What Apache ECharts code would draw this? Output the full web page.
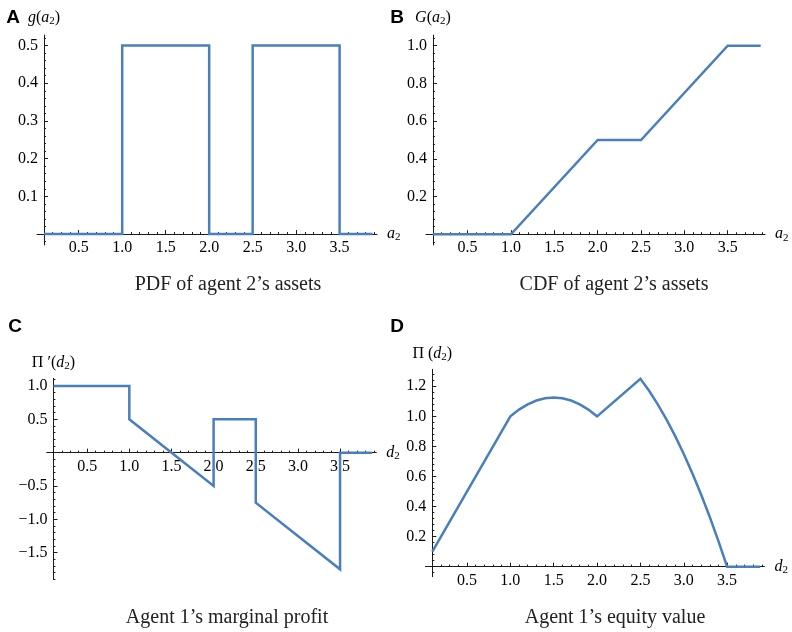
<!DOCTYPE html>
<html>
<head>
<meta charset="utf-8">
<script src="https://cdn.jsdelivr.net/npm/echarts@6/dist/echarts.min.js"></script>
<style>
  html, body { margin: 0; padding: 0; background: #fff; }
  #chart { width: 792px; height: 632px; }
</style>
</head>
<body>
<div id="chart"></div>
<script>
// panel A: PDF g(a2)
const pdfX = [0.1, 1, 1, 2, 2, 2.5, 2.5, 3.5, 3.5, 3.88];
const pdfY = [0, 0, 0.5, 0.5, 0, 0, 0.5, 0.5, 0, 0];
// panel B: CDF G(a2)
const cdfX = [0.1, 1, 2, 2.5, 3.5, 3.88];
const cdfY = [0, 0, 0.5, 0.5, 1, 1];
// panel C: marginal profit Pi'(d2)
const margX = [0.1, 1, 1, 2, 2, 2.5, 2.5, 3.5, 3.5, 3.88];
const margY = [1, 1, 0.5, -0.5, 0.5, 0.5, -0.75, -1.75, 0, 0];
// panel D: equity value Pi(d2)
const eqX = [0.1, 1, 1.1, 1.2, 1.3, 1.4, 1.5, 1.6, 1.7, 1.8, 1.9, 2, 2.5,
  2.6, 2.7, 2.8, 2.9, 3.0, 3.1, 3.2, 3.3, 3.4, 3.5, 3.88];
const eqY = [0.1, 1, 1.045, 1.08, 1.105, 1.12, 1.125, 1.12, 1.105, 1.08, 1.045, 1, 1.25,
  1.17, 1.08, 0.98, 0.87, 0.75, 0.62, 0.48, 0.33, 0.17, 0, 0];

// tick labels
const xTicks = [0.5, 1.0, 1.5, 2.0, 2.5, 3.0, 3.5];
const yTicksA = [0.1, 0.2, 0.3, 0.4, 0.5];
const yTicksB = [0.2, 0.4, 0.6, 0.8, 1.0];
const yTicksC = [1.0, 0.5, -0.5, -1.0, -1.5];
const yTicksD = [0.2, 0.4, 0.6, 0.8, 1.0, 1.2];

const titles = ['PDF of agent 2\u2019s assets', 'CDF of agent 2\u2019s assets',
  'Agent 1\u2019s marginal profit', 'Agent 1\u2019s equity value'];

const lineColor = '#4a7fbd';
const axisColor = '#1a1a1a';
const serif = '"Liberation Serif", "DejaVu Serif", serif';

// minor tick positions between lo and hi in given step, skipping majors
function minors(lo, hi, step, majors) {
  const out = [];
  const n = Math.round((hi - lo) / step);
  for (let i = 0; i <= n; i++) {
    const v = Math.round((lo + i * step) * 1000) / 1000;
    if (!majors.some(m => Math.abs(m - v) < 1e-6)) out.push(v);
  }
  return out;
}

const rich = {
  i: { fontFamily: serif, fontStyle: 'italic', fontSize: 16, color: '#000', lineHeight: 18 },
  n: { fontFamily: serif, fontSize: 16, color: '#000', lineHeight: 18 },
  s: { fontFamily: serif, fontSize: 11, color: '#000', lineHeight: 10, verticalAlign: 'bottom' }
};

const panels = [
  { grid: { left: 37, top: 35, width: 340, height: 210 }, ymin: -0.029, ymax: 0.528,
    yTicks: yTicksA, yMinor: minors(-0.02, 0.52, 0.02, yTicksA),
    yName: '{i|g}{n|(}{i|a}{s|2}{n|)}', xName: '{i|a}{s|2}', nameGapY: 8,
    xs: pdfX, ys: pdfY },
  { grid: { left: 426, top: 35, width: 339, height: 210 }, ymin: -0.057, ymax: 1.057,
    yTicks: yTicksB, yMinor: minors(-0.04, 1.04, 0.04, yTicksB),
    yName: '{i|G}{n|(}{i|a}{s|2}{n|)}', xName: '{i|a}{s|2}', nameGapY: 8,
    xs: cdfX, ys: cdfY },
  { grid: { left: 46.7, top: 378.3, width: 329.6, height: 201 }, ymin: -1.9, ymax: 1.115,
    yTicks: yTicksC, yMinor: minors(-1.9, 1.1, 0.1, yTicksC.concat([0])),
    yName: '{n|\u03A0 \u2032(}{i|d}{s|2}{n|)}', xName: '{i|d}{s|2}', nameGapY: 7,
    xs: margX, ys: margY },
  { grid: { left: 425.4, top: 369.3, width: 339, height: 207.4 }, ymin: -0.067, ymax: 1.313,
    yTicks: yTicksD, yMinor: minors(-0.04, 1.28, 0.04, yTicksD),
    yName: '{n|\u03A0 (}{i|d}{s|2}{n|)}', xName: '{i|d}{s|2}', nameGapY: 7,
    xs: eqX, ys: eqY }
];

const xMin = 0.02, xMax = 3.93;
const xMinor = minors(0.2, 3.9, 0.1, xTicks);

const grid = [], xAxis = [], yAxis = [], series = [];
panels.forEach((p, k) => {
  grid.push(Object.assign({ outerBoundsMode: 'none' }, p.grid));
  // axes cross at (0.1, 0): shift them in pixels from the grid edges
  const yOff = -(0.1 - xMin) * p.grid.width / (xMax - xMin);
  const xOff = -(0 - p.ymin) * p.grid.height / (p.ymax - p.ymin);
  const fmt = v => v.toFixed(1).replace('-', '\u2212');
  // major x axis
  xAxis.push({
    type: 'value', gridIndex: k, min: xMin, max: xMax, position: 'bottom', offset: xOff,
    axisLine: { onZero: false, lineStyle: { color: axisColor, width: 1 } },
    axisTick: { inside: true, length: 4, customValues: xTicks, lineStyle: { color: axisColor } },
    axisLabel: { customValues: xTicks, formatter: fmt, margin: 6, fontFamily: serif, fontSize: 16, color: '#000' },
    splitLine: { show: false },
    name: p.xName, nameLocation: 'end', nameGap: 10,
    nameTextStyle: { rich: rich, verticalAlign: 'middle' }
  });
  // minor x ticks
  xAxis.push({
    type: 'value', gridIndex: k, min: xMin, max: xMax, position: 'bottom', offset: xOff,
    axisLine: { show: false, onZero: false },
    axisTick: { inside: true, length: 2, customValues: xMinor, lineStyle: { color: axisColor } },
    axisLabel: { show: false }, splitLine: { show: false }
  });
  yAxis.push({
    type: 'value', gridIndex: k, min: p.ymin, max: p.ymax, position: 'left', offset: yOff,
    axisLine: { show: true, onZero: false, lineStyle: { color: axisColor, width: 1 } },
    axisTick: { show: true, inside: true, length: 4, customValues: p.yTicks, lineStyle: { color: axisColor } },
    axisLabel: { customValues: p.yTicks, formatter: fmt, margin: 6, fontFamily: serif, fontSize: 16, color: '#000' },
    splitLine: { show: false },
    name: p.yName, nameLocation: 'end', nameGap: p.nameGapY,
    nameTextStyle: { rich: rich, align: 'center' }
  });
  yAxis.push({
    type: 'value', gridIndex: k, min: p.ymin, max: p.ymax, position: 'left', offset: yOff,
    axisLine: { show: false, onZero: false },
    axisTick: { show: true, inside: true, length: 2, customValues: p.yMinor, lineStyle: { color: axisColor } },
    axisLabel: { show: false }, splitLine: { show: false }
  });
  series.push({
    type: 'line', xAxisIndex: 2 * k, yAxisIndex: 2 * k,
    data: p.xs.map((x, i) => [x, p.ys[i]]),
    showSymbol: false, symbol: 'none', clip: false,
    lineStyle: { color: lineColor, width: 2.5, join: 'miter' }
  });
});

const letters = [['A', 13, 18], ['B', 397, 18], ['C', 15, 327], ['D', 397, 327]];
const titlePos = [[228, 285], [614, 285], [227, 618], [615, 618]];
const graphic = [];
letters.forEach(l => graphic.push({
  type: 'text', x: l[1], y: l[2],
  style: { text: l[0], font: 'bold 19px "Liberation Sans", Arial, sans-serif', fill: '#000', align: 'center', verticalAlign: 'middle' }
}));
titles.forEach((t, i) => graphic.push({
  type: 'text', x: titlePos[i][0], y: titlePos[i][1],
  style: { text: t, font: '20px ' + serif, fill: '#222', align: 'center', verticalAlign: 'middle' }
}));

const chart = echarts.init(document.getElementById('chart'), null, { renderer: 'canvas' });
chart.setOption({
  animation: false,
  backgroundColor: '#fff',
  grid: grid, xAxis: xAxis, yAxis: yAxis, series: series, graphic: graphic
});
</script>
</body>
</html>
